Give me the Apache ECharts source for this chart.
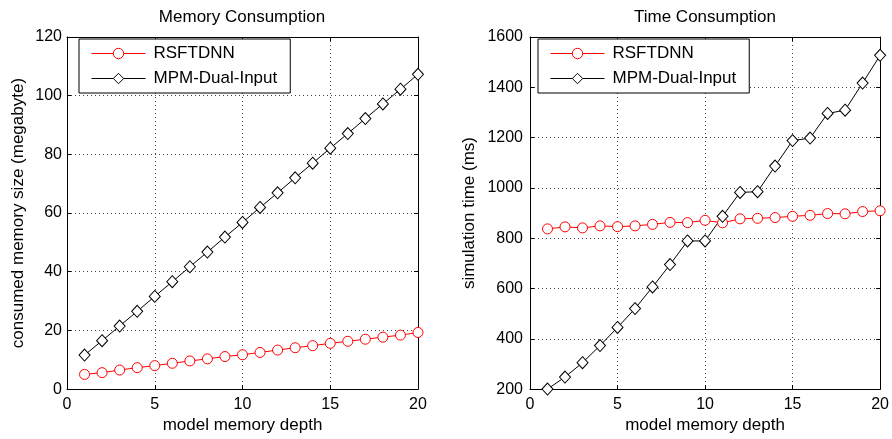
<!DOCTYPE html>
<html>
<head>
<meta charset="utf-8">
<script src="https://cdn.jsdelivr.net/npm/echarts@6/dist/echarts.min.js"></script>
<style>
html,body{margin:0;padding:0;background:#fff;}
#chart{width:892px;height:439px;}
</style>
</head>
<body>
<div id="chart"></div>
<script>
// ---- data ----
var depth = [1,2,3,4,5,6,7,8,9,10,11,12,13,14,15,16,17,18,19,20];
var memRSFTDNN = [5.0,5.6,6.5,7.3,8.0,8.8,9.6,10.3,11.1,11.7,12.5,13.3,14.1,14.8,15.6,16.3,17.0,17.7,18.4,19.3];
var memMPM = [11.6,16.5,21.5,26.5,31.6,36.6,41.7,46.7,51.8,56.8,61.9,66.9,72.0,77.0,82.1,87.1,92.2,97.2,102.2,107.3];
var timeRSFTDNN = [837,845,841,849,846,849,855,863,862,871,861,877,879,882,887,891,898,897,906,909];
var timeMPM = [200,248,305,373,445,520,606,695,789,789,887,982,985,1087,1188,1198,1296,1309,1417,1527];
var seriesNames = ['RSFTDNN','MPM-Dual-Input'];
var titles = ['Memory Consumption','Time Consumption'];
var xName = 'model memory depth';
var yNames = ['consumed memory size (megabyte)','simulation time (ms)'];

var FONT = "'Liberation Sans', Arial, Helvetica, sans-serif";
function pairs(xs, ys){ return xs.map(function(x,i){ return [x, ys[i]]; }); }
function plain(v){ return String(v); }

var gridLine = {show:true, lineStyle:{type:[1,3], color:'#444', width:1}};
function xAxes(gi){
  return [
    {gridIndex:gi, type:'value', min:0, max:20, interval:5, position:'bottom',
     axisLine:{show:true, onZero:false, lineStyle:{color:'#000', width:1}},
     axisTick:{show:true, inside:true, length:4, lineStyle:{color:'#000'}},
     axisLabel:{color:'#000', fontSize:16, fontFamily:FONT, margin:7, formatter:plain},
     splitLine:gridLine,
     name:xName, nameLocation:'middle', nameGap:27,
     nameTextStyle:{color:'#000', fontSize:17, fontFamily:FONT}},
    {gridIndex:gi, type:'value', min:0, max:20, interval:5, position:'top',
     axisLine:{show:true, onZero:false, lineStyle:{color:'#000', width:1}},
     axisTick:{show:true, inside:true, length:4, lineStyle:{color:'#000'}},
     axisLabel:{show:false}, splitLine:{show:false}}
  ];
}
function yAxes(gi, min, max, interval, gap, margin){
  return [
    {gridIndex:gi, type:'value', min:min, max:max, interval:interval, position:'left',
     axisLine:{show:true, onZero:false, lineStyle:{color:'#000', width:1}},
     axisTick:{show:true, inside:true, length:4, lineStyle:{color:'#000'}},
     axisLabel:{color:'#000', fontSize:16, fontFamily:FONT, margin:margin, formatter:plain},
     splitLine:gridLine,
     name:yNames[gi], nameLocation:'middle', nameGap:gap,
     nameTextStyle:{color:'#000', fontSize:17, fontFamily:FONT}},
    {gridIndex:gi, type:'value', min:min, max:max, interval:interval, position:'right',
     axisLine:{show:true, onZero:false, lineStyle:{color:'#000', width:1}},
     axisTick:{show:true, inside:true, length:4, lineStyle:{color:'#000'}},
     axisLabel:{show:false}, splitLine:{show:false}}
  ];
}
function mkSeries(name, data, xi, yi, color, sym, size){
  return {name:name, type:'line', xAxisIndex:xi, yAxisIndex:yi, data:data,
    symbol:sym, symbolSize:size, showAllSymbol:true,
    color:color,
    lineStyle:{color:color, width:1},
    itemStyle:{color:'#ffffff', borderColor:color, borderWidth:1},
    emphasis:{disabled:true}, z:3};
}
function legend(left){
  return {left:left, top:39, orient:'vertical', data:seriesNames,
    backgroundColor:'#fff', borderColor:'#000', borderWidth:1,
    padding:[6,13,6,12], itemWidth:54, itemHeight:13, itemGap:8,
    lineStyle:{width:1}, itemStyle:{borderWidth:1},
    textStyle:{color:'#000', fontSize:17, fontFamily:FONT, padding:[0,0,0,3]},
    selectedMode:false};
}

var option = {
  animation:false,
  backgroundColor:'#fff',
  title:[
    {text:titles[0], left:242, top:9, textAlign:'center', padding:0,
     textStyle:{color:'#000', fontSize:17, fontWeight:'normal', fontFamily:FONT}},
    {text:titles[1], left:705, top:9, textAlign:'center', padding:0,
     textStyle:{color:'#000', fontSize:17, fontWeight:'normal', fontFamily:FONT}}
  ],
  legend:[legend(79), legend(538)],
  grid:[
    {left:67, right:474, top:37, bottom:46, containLabel:false},
    {left:530, right:11, top:37, bottom:46, containLabel:false}
  ],
  xAxis: xAxes(0).concat(xAxes(1)),
  yAxis: yAxes(0, 0, 120, 20, 40, 5).concat(yAxes(1, 200, 1600, 200, 52, 7)),
  series:[
    mkSeries(seriesNames[0], pairs(depth, memRSFTDNN), 0, 0, '#ff0000', 'circle', 10),
    mkSeries(seriesNames[1], pairs(depth, memMPM), 0, 0, '#000000', 'diamond', [11,12]),
    mkSeries(seriesNames[0], pairs(depth, timeRSFTDNN), 2, 2, '#ff0000', 'circle', 10),
    mkSeries(seriesNames[1], pairs(depth, timeMPM), 2, 2, '#000000', 'diamond', [11,12])
  ]
};
var chart = echarts.init(document.getElementById('chart'), null, {renderer:'canvas'});
chart.setOption(option);
</script>
</body>
</html>
